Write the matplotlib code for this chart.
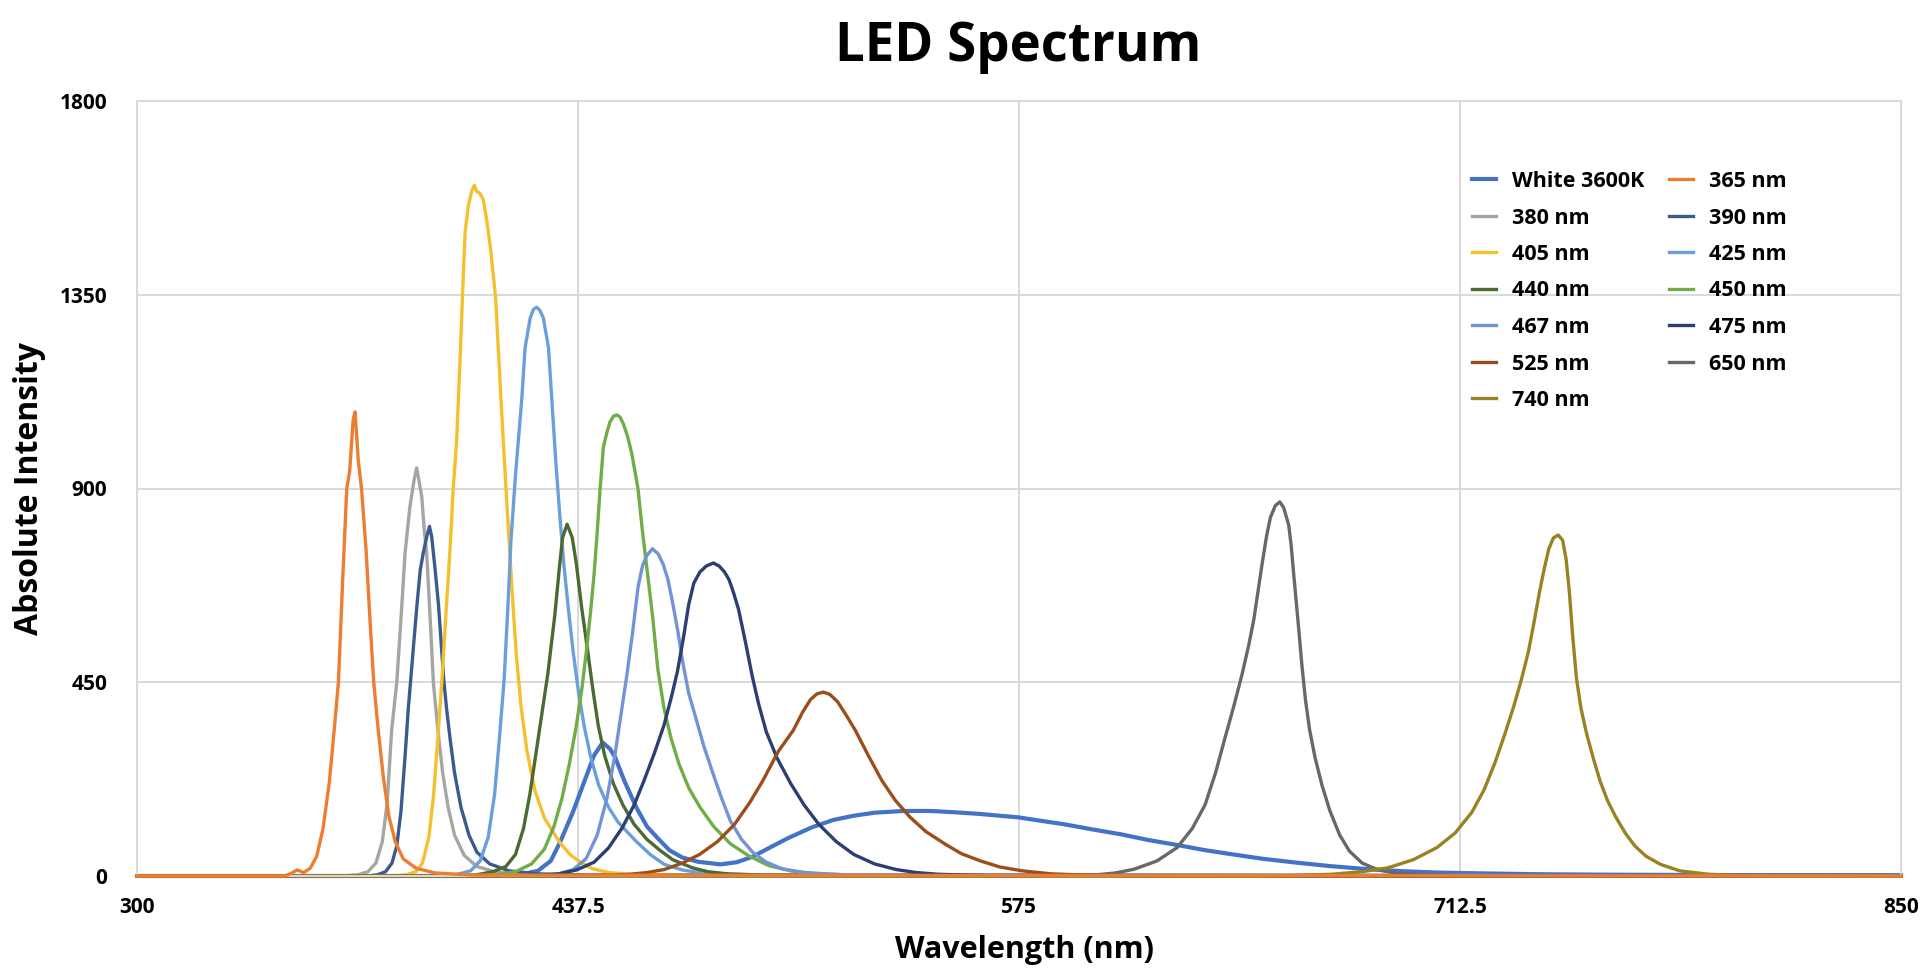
"""
LED spectrum: absolute intensity vs wavelength for a set of LEDs.
Values read off the reference chart (nm, intensity) pairs.
"""

import numpy as np
import matplotlib.pyplot as plt

plt.rcParams.update({
    'font.family': ['Open Sans', 'DejaVu Sans'],
    'font.weight': 'bold',
    'axes.labelweight': 'bold',
})

# ---- data: (wavelength nm, absolute intensity) ----
white_3600k = [(300, 0), (410, 0), (420, 4), (425, 12), (429, 35), (432, 80), (436, 150),
               (439.5, 220), (442.5, 280), (445.2, 310), (447.5, 295), (449.1, 275),
               (452, 220), (455.7, 159), (459, 115), (462.2, 89), (466, 60), (470, 43),
               (475, 33), (481.9, 27), (487, 32), (492, 45), (497.3, 66), (503, 88),
               (510.4, 113), (517, 130), (523.5, 140), (530, 147), (538.9, 151),
               (547.6, 151), (555, 148), (563, 144), (575, 136), (582, 128), (589.2, 120),
               (598, 108), (606.7, 97), (615, 84), (624.3, 72), (633, 60), (641.8, 50),
               (651, 40), (661.5, 31), (672, 23), (683.4, 16), (695, 11), (705.3, 8),
               (720, 6), (738, 4), (760, 3), (800, 2), (850, 2)]

led_365 = [(300, 0), (346, 0), (348, 6), (350, 14), (352, 8), (354, 18), (356, 45),
           (358, 110), (360, 220), (361.5, 340), (362.8, 450), (364.2, 700), (365.4, 900),
           (366.3, 940), (367.4, 1060), (368.0, 1078), (369.0, 964), (370.0, 900),
           (371.4, 760), (372.6, 600), (373.8, 450), (375.2, 340), (376.8, 230),
           (378.5, 140), (380.5, 80), (383, 40), (387, 18), (393, 7), (405, 2), (850, 0)]

led_380 = [(300, 0), (364, 0), (369, 3), (372, 10), (374.5, 30), (376.5, 80), (378, 170),
           (379.4, 339), (381.0, 450), (382.5, 620), (383.6, 752), (385.1, 858),
           (386.4, 920), (387.2, 948), (388.0, 915), (388.8, 880), (389.6, 800),
           (390.3, 752), (391.4, 600), (392.4, 450), (393.8, 340), (395.3, 240),
           (397, 160), (399, 95), (402, 48), (406, 22), (412, 9), (425, 3), (850, 0)]

led_390 = [(300, 0), (372, 0), (375, 3), (377.5, 10), (379.5, 30), (381, 70), (382.3, 150),
           (383.6, 280), (384.6, 390), (385.5, 470), (386.5, 560), (387.3, 630),
           (388.3, 710), (389.3, 752), (390.3, 787), (391.2, 812), (391.9, 787),
           (393.0, 708), (394.0, 630), (394.8, 545), (395.6, 460), (396.5, 390),
           (397.6, 320), (399, 240), (401, 160), (403.5, 95), (406, 55), (410, 28),
           (416, 12), (425, 5), (440, 2), (850, 0)]

led_405 = [(300, 0), (380, 0), (384, 3), (387, 10), (389, 30), (391, 90), (392.5, 190),
           (393.8, 320), (395.2, 470), (396.5, 630), (397.6, 760), (398.6, 900),
           (399.7, 1017), (400.7, 1194), (401.6, 1370), (402.3, 1494), (403.3, 1556),
           (404.4, 1592), (405.2, 1604), (405.9, 1590), (406.9, 1586), (408.0, 1570),
           (409.1, 1520), (410.2, 1459), (411.8, 1344), (413.5, 1105), (415.2, 880),
           (416.8, 680), (418.3, 510), (419.8, 390), (421.6, 290), (424, 200), (427, 135),
           (431.6, 80), (435, 50), (438.2, 32), (442, 17), (447, 8), (455, 3), (470, 1),
           (850, 0)]

led_425 = [(300, 0), (395, 0), (400, 4), (404, 12), (407, 35), (409.5, 90), (411.5, 190),
           (413, 320), (414.5, 460), (415.6, 620), (416.6, 780), (418.0, 930),
           (420.0, 1111), (421.0, 1227), (422.6, 1296), (423.6, 1316), (424.6, 1321),
           (425.6, 1314), (426.7, 1296), (428.3, 1227), (429.3, 1111), (430.6, 960),
           (431.8, 840), (433, 730), (434.5, 620), (436, 520), (437.6, 430), (439.5, 345),
           (441.5, 275), (444, 210), (447, 160), (450, 125), (455.7, 80), (460, 50),
           (464.4, 27), (470, 14), (475.4, 8), (485, 4), (500, 2), (850, 0)]

led_440 = [(300, 0), (400, 0), (406, 3), (411, 10), (415, 22), (418, 50), (420.5, 110),
           (422.5, 190), (424.5, 290), (426.3, 380), (428.1, 470), (430.3, 608),
           (431.8, 724), (432.7, 786), (434.1, 817), (435.7, 786), (437.0, 724),
           (438.7, 620), (440.4, 530), (442.0, 440), (443.8, 350), (445.8, 280),
           (448.5, 215), (451.5, 165), (455, 120), (459, 85), (463, 60), (467, 38),
           (473.2, 19), (478, 10), (484.1, 5), (495, 2), (850, 0)]

led_450 = [(300, 0), (405, 0), (412, 3), (418, 10), (423, 28), (427, 62), (430, 115),
           (432.5, 180), (434.8, 260), (437, 350), (438.8, 440), (440.4, 540),
           (441.5, 620), (442.5, 700), (443.5, 800), (444.4, 900), (445.4, 995),
           (446.5, 1030), (447.5, 1055), (448.6, 1068), (449.6, 1071), (450.6, 1066),
           (451.7, 1049), (453.0, 1020), (454.3, 980), (456.2, 900), (457.6, 800),
           (458.9, 720), (460.8, 600), (462.4, 480), (464.3, 390), (466.5, 320),
           (469, 260), (472, 205), (475.5, 160), (479.8, 115), (485, 75), (490.7, 47),
           (497, 24), (503.8, 12), (512, 5), (525, 2), (850, 0)]

led_467 = [(300, 0), (425, 0), (431, 4), (436, 15), (440, 40), (443.5, 95), (446.5, 180),
           (449, 280), (451, 380), (452.8, 470), (454.6, 570), (456.2, 670),
           (457.6, 720), (458.9, 744), (460.7, 760), (462.5, 748), (464, 725),
           (465.5, 690), (467, 635), (468.6, 570), (470.2, 495), (472, 425),
           (474.5, 360), (476.8, 300), (479.5, 240), (482.3, 180), (485, 128),
           (488.5, 85), (492, 55), (496, 33), (501, 17), (508, 8), (520, 3), (850, 0)]

led_475 = [(300, 0), (420, 0), (426, 2), (431.6, 5), (437, 14), (442.5, 32), (447, 65),
           (451.3, 112), (455, 165), (458, 220), (461.3, 285), (464.3, 350),
           (466.6, 415), (468.5, 475), (470.3, 550), (472.0, 630), (473.6, 680),
           (475.5, 706), (477.5, 720), (479.7, 727), (481.5, 720), (483.2, 706),
           (484.6, 688), (486, 658), (487.6, 618), (489.8, 540), (491.8, 465),
           (493.8, 400), (496.2, 335), (499.5, 275), (503.8, 215), (508, 165),
           (512.6, 120), (518, 80), (523.5, 50), (530, 28), (536.7, 15), (543, 8),
           (549.8, 4), (565, 1), (850, 0)]

led_525 = [(300, 0), (440, 0), (447, 2), (453.5, 4), (459, 8), (464.4, 15), (470, 30),
           (475.4, 50), (481, 80), (486.3, 120), (491, 170), (495.1, 221), (500, 290),
           (504.6, 338), (507.5, 380), (510, 410), (512, 423), (514, 427), (516, 422),
           (518.4, 405), (521, 375), (524, 338), (528, 280), (532.3, 221), (536.5, 175),
           (541.1, 136), (546, 103), (552, 74), (557, 52), (563, 35), (569, 21),
           (576, 12), (585, 5), (596, 2), (610, 0), (850, 0)]

led_650 = [(300, 0), (580, 0), (590, 1), (598, 2), (605, 7), (611, 16), (618, 35),
           (624.3, 66), (629, 110), (633, 165), (636.3, 240), (639.2, 320), (642, 395),
           (644.6, 470), (646.6, 535), (648.2, 595), (649.5, 660), (650.8, 725),
           (652.2, 790), (653.4, 833), (654.9, 860), (656.3, 869), (657.5, 856),
           (659.1, 815), (659.9, 765), (660.6, 705), (661.4, 640), (662.2, 575),
           (663.2, 490), (664.3, 410), (665.6, 340), (667.3, 275), (669.5, 210),
           (672, 150), (675, 95), (678, 58), (682, 30), (687, 14), (693, 6), (700, 3),
           (710, 1), (720, 0), (850, 0)]

led_740 = [(300, 0), (650, 0), (660, 1), (672.4, 4), (682, 10), (690, 19), (698, 38),
           (705.3, 66), (711, 100), (716.2, 148), (720, 200), (723.5, 265), (726.5, 330),
           (729.3, 395), (731.6, 455), (733.8, 520), (735.6, 590), (737.3, 660),
           (738.8, 715), (740.2, 760), (741.6, 785), (743.1, 792), (744.5, 780),
           (745.6, 735), (746.6, 660), (747.6, 560), (748.8, 460), (750.2, 390),
           (752, 330), (754, 275), (756.2, 220), (758.5, 175), (761, 138), (764, 100),
           (767, 70), (770.5, 46), (775, 27), (781, 12), (790, 4), (800, 1), (850, 0)]

# series in the order they appear in the legend (row by row)
SERIES = [
    ('White 3600K', white_3600k, '#4472C4'),
    ('365 nm', led_365, '#ED7D31'),
    ('380 nm', led_380, '#A5A5A5'),
    ('390 nm', led_390, '#3B5B8E'),
    ('405 nm', led_405, '#F4C030'),
    ('425 nm', led_425, '#6A9FDB'),
    ('440 nm', led_440, '#4B6A31'),
    ('450 nm', led_450, '#70AD47'),
    ('467 nm', led_467, '#7293D6'),
    ('475 nm', led_475, '#2D3F72'),
    ('525 nm', led_525, '#9C4E1A'),
    ('650 nm', led_650, '#686868'),
    ('740 nm', led_740, '#9A8224'),
]

x_ticks = [300, 437.5, 575, 712.5, 850]
x_tick_labels = ['300', '437.5', '575', '712.5', '850']
y_ticks = [0, 450, 900, 1350, 1800]

GRID = '#D9D9D9'

fig = plt.figure(figsize=(19.2, 9.74), dpi=100)
ax = fig.add_axes([137 / 1920, 1 - 876 / 974, 1764 / 1920, 775 / 974])

handles = {}
for name, pts, color in SERIES:
    arr = np.array(pts, dtype=float)
    lw = 3.0 if name.startswith('White') else 2.4
    z = 3 if name == '365 nm' else 2
    line, = ax.plot(arr[:, 0], arr[:, 1], color=color, lw=lw, label=name,
                    zorder=z, clip_on=False, solid_joinstyle='round')
    handles[name] = line

ax.set_xlim(300, 850)
ax.set_ylim(0, 1800)
ax.set_xticks(x_ticks)
ax.set_xticklabels(x_tick_labels)
ax.set_yticks(y_ticks)
ax.tick_params(axis='both', length=0, labelsize=15)
ax.tick_params(axis='x', pad=15)
ax.tick_params(axis='y', pad=21.5)
ax.grid(True, color=GRID, lw=1.4, zorder=0)
ax.set_axisbelow(True)
for spine in ax.spines.values():
    spine.set_color(GRID)
    spine.set_linewidth(1.4)

fig.text(1018 / 1920, 1 - 61 / 974, 'LED Spectrum', ha='center', va='baseline',
         fontsize=38, fontweight='bold')

ax.set_xlabel('Wavelength (nm)', fontsize=22, va='baseline')
ax.xaxis.set_label_coords(0.503, (876 - 958) / 775)
ax.set_ylabel('Absolute Intensity', fontsize=23, va='center')
ax.yaxis.set_label_coords((30 - 137) / 1764, 0.5)

# legend: two columns read row by row -> reorder for column-major filling
order = [0, 2, 4, 6, 8, 10, 12, 1, 3, 5, 7, 9, 11]
leg_handles = [handles[SERIES[i][0]] for i in order]
leg_labels = [SERIES[i][0] for i in order]
ax.legend(leg_handles, leg_labels, ncol=2, frameon=False, fontsize=15.5,
          loc='upper left', bbox_to_anchor=((1471.7 - 137) / 1764, (876 - 171) / 775),
          borderpad=0, borderaxespad=0, handlelength=1.12, handletextpad=0.73,
          columnspacing=1.16, labelspacing=0.72)

fig.savefig('out.png', dpi=100)
